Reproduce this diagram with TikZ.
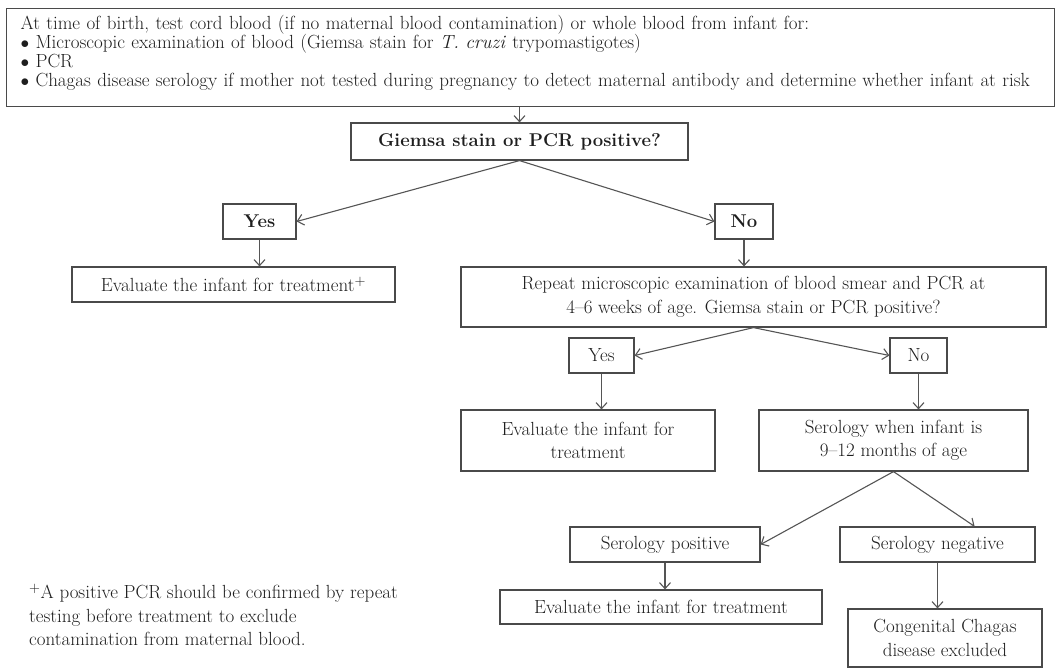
\documentclass[tikz,border=0pt]{standalone}
\usepackage{fontspec}
\usetikzlibrary{arrows.meta}
\definecolor{inkgray}{HTML}{1E1E1E}
\definecolor{framegray}{HTML}{4A4A4A}
\definecolor{linkgray}{HTML}{555555}
\begin{document}
\begin{tikzpicture}[x=1pt,y=-1pt,
	chartbox/.style={draw=framegray, line width=1.2pt, inner sep=0pt, align=center, text=inkgray},
	link/.style={draw=linkgray, line width=1.1pt, -{Straight Barb[length=6pt,width=11pt]}},
	font=\fontsize{19}{23.5}\selectfont]
			\useasboundingbox (0,0) rectangle (1059,669);
			\node [chartbox, anchor=north west, align=left, text width=1020pt, inner xsep=14pt, inner ysep=0pt, minimum height=98pt, font=\fontsize{19}{19}\selectfont] (birth) at (6,8) {At time of birth, test cord blood (if no maternal blood contamination) or whole blood from infant for:\\$\bullet$ Microscopic examination of blood (Giemsa stain for \textit{T. cruzi} trypomastigotes)\\$\bullet$ PCR\\$\bullet$ Chagas disease serology if mother not tested during pregnancy to detect maternal antibody and determine whether infant at risk\rule[-13pt]{0pt}{13pt}};
			\node [chartbox, minimum width=337pt, minimum height=37pt, font=\fontsize{18.5}{23.5}\selectfont\bfseries] (giemsa) at (519.5,141.5) {Giemsa stain or PCR positive?};
			\node [chartbox, minimum width=73pt, minimum height=35pt, font=\fontsize{18.5}{23.5}\selectfont\bfseries] (yesA) at (259.5,221.5) {Yes};
			\node [chartbox, minimum width=58pt, minimum height=35pt, font=\fontsize{18.5}{23.5}\selectfont\bfseries] (noA) at (744,221.5) {No};
			\node [chartbox, minimum width=323pt, minimum height=35pt] (evalA) at (233.5,284.5) {Evaluate the infant for treatment$^+$};
			\node [chartbox, minimum width=585pt, minimum height=60pt] (repeat) at (753.5,297) {Repeat microscopic examination of blood smear and PCR at\\4--6 weeks of age. Giemsa stain or PCR positive?};
			\node [chartbox, minimum width=65pt, minimum height=35pt] (yesB) at (601.5,355.5) {Yes};
			\node [chartbox, minimum width=57pt, minimum height=35pt] (noB) at (918.5,355.5) {No};
			\node [chartbox, minimum width=254pt, minimum height=61pt] (evalB) at (588,440.5) {Evaluate the infant for\\treatment};
			\node [chartbox, minimum width=269pt, minimum height=61pt] (sero) at (893.5,440.5) {Serology when infant is\\9--12 months of age};
			\node [chartbox, minimum width=190pt, minimum height=35pt] (pos) at (665,544.5) {Serology positive};
			\node [chartbox, minimum width=195pt, minimum height=35pt] (neg) at (937.5,544.5) {Serology negative};
			\node [chartbox, minimum width=322pt, minimum height=34pt] (evalC) at (661,607) {Evaluate the infant for treatment};
			\node [chartbox, minimum width=194pt, minimum height=58pt] (cong) at (945,638) {Congenital Chagas\\disease excluded};
			\node [anchor=west, align=left, inner sep=0pt, text=inkgray] (note) at (29,615) {$^+$A positive PCR should be confirmed by repeat\\testing before treatment to exclude\\contamination from maternal blood.};
			\draw [link] (birth.south -| giemsa.north) -- (giemsa.north);
			\draw [link] (giemsa.south) -- (yesA.east);
			\draw [link] (giemsa.south) -- (noA.west);
			\draw [link] (yesA.south) -- (yesA.south |- evalA.north);
			\draw [link] (noA.south) -- (noA.south |- repeat.north);
			\draw [link] (repeat.south) -- (yesB.east);
			\draw [link] (repeat.south) -- (noB.west);
			\draw [link] (yesB.south) -- (yesB.south |- evalB.north);
			\draw [link] (noB.south) -- (noB.south |- sero.north);
			\draw [link] (sero.south) -- (pos.east);
			\draw [link] (sero.south) -- (neg.26);
			\draw [link] (pos.south) -- (pos.south |- evalC.north);
			\draw [link] (neg.south) -- (neg.south |- cong.north);
\end{tikzpicture}
\end{document}
